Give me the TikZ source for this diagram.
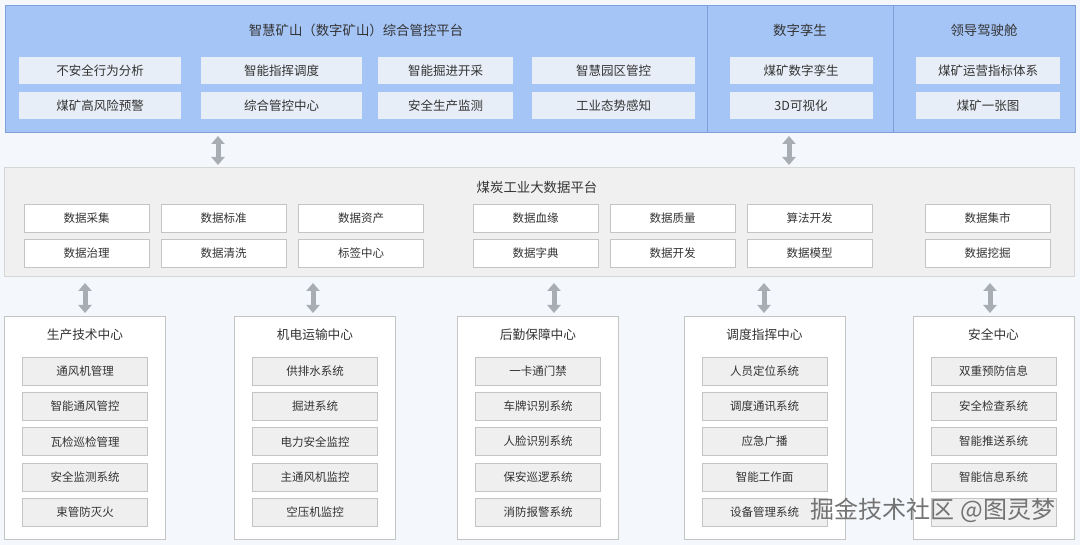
\documentclass[tikz,border=0pt]{standalone}
\usepackage{fontspec}
\usepackage{tikz}
\usetikzlibrary{arrows.meta}
\newfontfamily\cjk{Noto Sans CJK SC}
\definecolor{bg}{RGB}{244,247,251}
\definecolor{bandfill}{RGB}{166,197,247}
\definecolor{bandline}{RGB}{127,159,216}
\definecolor{bandtile}{RGB}{232,238,247}
\definecolor{platfill}{RGB}{240,240,240}
\definecolor{platline}{RGB}{214,214,214}
\definecolor{tileline}{RGB}{196,196,196}
\definecolor{unitfill}{RGB}{239,239,239}
\definecolor{arrowgray}{RGB}{168,173,179}
\definecolor{ink}{RGB}{51,51,51}
\newcommand{\cjksize}[1]{\cjk\fontsize{#1}{#1}\selectfont}
\tikzset{
  section/.style={draw=bandline, fill=bandfill, line width=0.8pt, inner sep=0pt, outer sep=0pt,
    anchor=north west, minimum height=127pt},
  bandtile/.style={fill=bandtile, minimum width=#1, minimum height=27pt, inner sep=0pt,
    text=ink, font=\cjksize{12.5}},
  datatile/.style={draw=tileline, fill=white, line width=0.6pt, minimum width=125pt,
    minimum height=28pt, inner sep=0pt, text=ink, font=\cjksize{11.5}},
  centre/.style={draw=tileline, fill=white, line width=0.6pt, minimum width=161pt,
    minimum height=223pt, inner sep=0pt, outer sep=0pt, anchor=north},
  unit/.style={draw=tileline, fill=unitfill, line width=0.6pt, minimum width=125pt,
    minimum height=28pt, inner sep=0pt, text=ink, font=\cjksize{11.5}},
  heading/.style={text=ink, inner sep=0pt, font=\cjksize{#1}},
  heading/.default=13.4,
  updown/.style={draw=arrowgray, line width=5pt,
    {Triangle[width=13pt,length=8pt]}-{Triangle[width=13pt,length=8pt]}}
}
\begin{document}
\begin{tikzpicture}[x=1pt,y=-1pt]
\useasboundingbox[fill=bg] (0,0) rectangle (1080,545);
% application layer
\node[section, minimum width=702pt] (apps) at (5,5) {};
\node[section, minimum width=186pt] (twin) at (707,5) {};
\node[section, minimum width=182pt] (lead) at (893,5) {};
\node[heading] (appstitle) at (356,30) {智慧矿山（数字矿山）综合管控平台};
\node[heading] (twintitle) at (800,30) {数字孪生};
\node[heading] (leadtitle) at (984,30) {领导驾驶舱};
\node[bandtile=162pt] (a1) at (100,70.5) {不安全行为分析};
\node[bandtile=161pt] (a2) at (281.5,70.5) {智能指挥调度};
\node[bandtile=135pt] (a3) at (445.5,70.5) {智能掘进开采};
\node[bandtile=163pt] (a4) at (613.5,70.5) {智慧园区管控};
\node[bandtile=162pt] (a5) at (100,105.5) {煤矿高风险预警};
\node[bandtile=161pt] (a6) at (281.5,105.5) {综合管控中心};
\node[bandtile=135pt] (a7) at (445.5,105.5) {安全生产监测};
\node[bandtile=163pt] (a8) at (613.5,105.5) {工业态势感知};
\node[bandtile=143pt] (t1) at (801,70.5) {煤矿数字孪生};
\node[bandtile=143pt] (t2) at (801,105.5) {3D可视化};
\node[bandtile=144pt] (l1) at (988,70.5) {煤矿运营指标体系};
\node[bandtile=144pt] (l2) at (988,105.5) {煤矿一张图};
% data platform
\node[draw=platline, fill=platfill, line width=0.8pt, inner sep=0pt, outer sep=0pt, anchor=north west,
  minimum width=1070pt, minimum height=109pt] (plat) at (4,167) {};
\node[heading] (plattitle) at (537,187) {煤炭工业大数据平台};
\foreach \n/\cx/\cy/\txt in {d1/86.5/218/数据采集, d2/223.5/218/数据标准, d3/361/218/数据资产,
    d4/535.5/218/数据血缘, d5/672.5/218/数据质量, d6/809.5/218/算法开发, d7/987.5/218/数据集市,
    d8/86.5/253/数据治理, d9/223.5/253/数据清洗, d10/361/253/标签中心,
    d11/535.5/253/数据字典, d12/672.5/253/数据开发, d13/809.5/253/数据模型, d14/987.5/253/数据挖掘}
  \node[datatile] (\n) at (\cx,\cy) {\txt};
% links up
\coordinate (up1) at (218,0);
\coordinate (up2) at (789,0);
\draw[updown, shorten <=4pt, shorten >=2pt] (apps.south -| up1) -- (plat.north -| up1);
\draw[updown, shorten <=4pt, shorten >=2pt] (twin.south -| up2) -- (plat.north -| up2);
% business centres
\foreach \col/\cx/\ax/\head/\items in {
    1/85/85/生产技术中心/{通风机管理,智能通风管控,瓦检巡检管理,安全监测系统,束管防灭火},
    2/315/313/机电运输中心/{供排水系统,掘进系统,电力安全监控,主通风机监控,空压机监控},
    3/538/554/后勤保障中心/{一卡通门禁,车牌识别系统,人脸识别系统,保安巡逻系统,消防报警系统},
    4/764.5/764/调度指挥中心/{人员定位系统,调度通讯系统,应急广播,智能工作面,设备管理系统},
    5/993.5/990/安全中心/{双重预防信息,安全检查系统,智能推送系统,智能信息系统,{}}}{
  \node[centre] (c\col) at (\cx,316) {};
  \node[heading=12.7] (c\col-title) at (\cx,335) {\head};
  \foreach \txt [count=\i] in \items
    \node[unit] (c\col-\i) at (\cx,371+35.3*\i-35.3) {\txt};
  \coordinate (dn\col) at (\ax,0);
  \draw[updown, shorten <=7pt, shorten >=3pt] (plat.south -| dn\col) -- (c\col.north -| dn\col);
}
% watermark
\node[text=black!55, inner sep=0pt, font=\cjksize{24}] (mark) at (933,510) {掘金技术社区 @图灵梦};
\end{tikzpicture}
\end{document}
